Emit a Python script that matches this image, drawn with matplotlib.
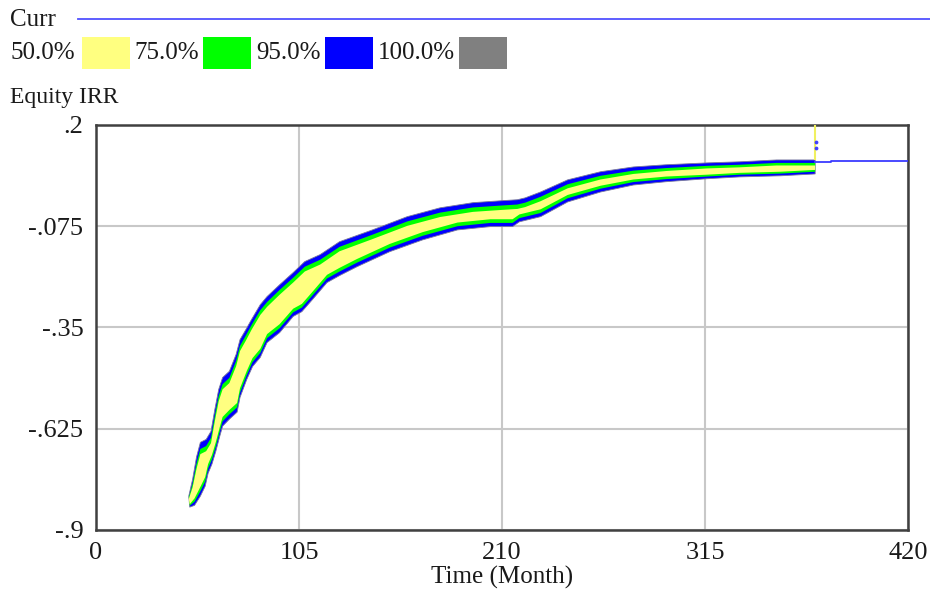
import numpy as np
import matplotlib
matplotlib.use('Agg')
from matplotlib import pyplot as plt
from matplotlib.patches import Rectangle

plt.rcParams['font.family'] = ['Liberation Serif', 'DejaVu Serif']

# sensitivity bands of Equity IRR (upper edges)
t_hi = [48, 50, 52, 54, 57, 59.5, 61.5, 63.5, 65.5, 69, 72.5, 74.5, 77.5, 80.5, 85, 88.5,
        95, 102, 108, 116, 126, 143, 161, 178, 195, 209, 218, 222, 230, 244, 261, 278,
        295, 316, 333, 352, 372]
p95_hi = [-0.808, -0.762, -0.702, -0.662, -0.654, -0.632, -0.572, -0.518, -0.486, -0.469,
          -0.423, -0.383, -0.356, -0.328, -0.288, -0.266, -0.234, -0.201, -0.171, -0.152,
          -0.117, -0.085, -0.049, -0.025, -0.011, -0.006, -0.003, 0.002, 0.018, 0.051,
          0.073, 0.086, 0.092, 0.097, 0.100, 0.105, 0.105]
p75_hi = [-0.812, -0.774, -0.720, -0.680, -0.672, -0.650, -0.590, -0.536, -0.504, -0.487,
          -0.441, -0.400, -0.372, -0.343, -0.303, -0.281, -0.248, -0.215, -0.185, -0.166,
          -0.131, -0.098, -0.062, -0.038, -0.024, -0.019, -0.016, -0.011, 0.005, 0.039,
          0.062, 0.076, 0.083, 0.089, 0.092, 0.097, 0.097]
p50_hi = [-0.816, -0.784, -0.734, -0.694, -0.686, -0.664, -0.604, -0.550, -0.518, -0.501,
          -0.455, -0.414, -0.386, -0.356, -0.316, -0.294, -0.261, -0.228, -0.198, -0.179,
          -0.143, -0.110, -0.074, -0.050, -0.036, -0.031, -0.028, -0.023, -0.007, 0.028,
          0.052, 0.067, 0.075, 0.082, 0.085, 0.090, 0.090]

# lower edges
t_lo = [48.5, 51, 54, 56.5, 58, 60, 62, 64, 65.5, 69, 73, 74.5, 78, 81, 85, 88.5, 95, 102,
        106.5, 112, 119.5, 126, 135, 152, 169, 187, 204, 215.5, 219, 230, 244, 261, 278,
        295, 316, 333, 354, 372]
p95_lo = [-0.838, -0.833, -0.808, -0.781, -0.746, -0.721, -0.686, -0.646, -0.618, -0.599,
          -0.580, -0.540, -0.491, -0.456, -0.431, -0.391, -0.364, -0.320, -0.307, -0.274,
          -0.228, -0.209, -0.185, -0.144, -0.112, -0.085, -0.076, -0.076, -0.063, -0.049,
          -0.009, 0.018, 0.037, 0.046, 0.054, 0.059, 0.062, 0.067]
p75_lo = [-0.834, -0.823, -0.795, -0.768, -0.733, -0.708, -0.673, -0.633, -0.605, -0.586,
          -0.567, -0.527, -0.479, -0.444, -0.419, -0.379, -0.352, -0.309, -0.296, -0.263,
          -0.217, -0.198, -0.174, -0.133, -0.101, -0.075, -0.066, -0.066, -0.053, -0.039,
          0.001, 0.027, 0.045, 0.053, 0.060, 0.065, 0.068, 0.073]
p50_lo = [-0.830, -0.814, -0.783, -0.756, -0.721, -0.696, -0.661, -0.621, -0.593, -0.574,
          -0.555, -0.515, -0.468, -0.433, -0.408, -0.368, -0.341, -0.299, -0.286, -0.253,
          -0.207, -0.188, -0.164, -0.123, -0.091, -0.065, -0.056, -0.056, -0.043, -0.029,
          0.010, 0.035, 0.052, 0.060, 0.065, 0.070, 0.073, 0.078]

# current run after the band ends, and the final spike
curr_t = [372, 380, 420]
curr_v = [0.100, 0.103, 0.103]
spike_t = 372
spike_top = 0.2
dots_v = [0.154, 0.138]

band_labels = ['50.0%', '75.0%', '95.0%', '100.0%']
band_colors = ['#ffff80', '#00ff00', '#0000ff', '#808080']

xticks = [0, 105, 210, 315, 420]
yticks = [0.2, -0.075, -0.35, -0.625, -0.9]
ylabels = ['.2', '-.075', '-.35', '-.625', '-.9']

fig = plt.figure(figsize=(9.3, 6), dpi=100)
ax = fig.add_axes([0.1032, 0.1167, 0.8731, 0.675])


def band(hi, lo, color, **kw):
    xs = np.concatenate([t_hi, t_lo[::-1]])
    ys = np.concatenate([hi, lo[::-1]])
    ax.fill(xs, ys, color=color, **kw)


band(p95_hi, p95_lo, band_colors[2], ec='#7a7a9a', lw=0.6, zorder=2)
band(p75_hi, p75_lo, band_colors[1], lw=0, zorder=3)
band(p50_hi, p50_lo, band_colors[0], lw=0, zorder=4)

ax.plot(curr_t, curr_v, color='#3a3aff', lw=1.3, drawstyle='steps-post', zorder=5)
ax.vlines(spike_t, p95_hi[-1], spike_top, color='#f0f060', lw=1.5, zorder=5)
ax.scatter([spike_t + 0.5] * 2, dots_v, s=3, color='#4040ff', zorder=6)

ax.set_xlim(0, 420)
ax.set_ylim(-0.9, 0.2)
ax.set_xticks(xticks)
ax.set_xticklabels([str(x) for x in xticks])
ax.set_yticks(yticks)
ax.set_yticklabels(ylabels)
ax.tick_params(length=0, labelsize=19, colors='#1a1a1a', pad=9)
ax.grid(True, color='#c8c8c8', lw=1.5, zorder=0)
ax.set_axisbelow(True)
for s in ax.spines.values():
    s.set_color('#404040')
    s.set_linewidth(1.8)
ax.set_xlabel('Time (Month)', fontsize=18, color='#1a1a1a', labelpad=1)

# legend at the top, Vensim style
fig.text(10 / 930, 1 - 20 / 600, 'Curr', fontsize=18, va='center', ha='left', color='#1a1a1a')
fig.add_artist(plt.Line2D([78 / 930, 1.0], [1 - 19 / 600] * 2, color='#5050ff', lw=1.3))
lab_x = [10, 134, 256, 378]
box_x = [82, 203, 325, 459]
for lx, bx, lab, c in zip(lab_x, box_x, band_labels, band_colors):
    fig.text(lx / 930, 1 - 53 / 600, lab, fontsize=18, va='center', ha='left', color='#1a1a1a')
    fig.add_artist(Rectangle((bx / 930, 1 - 69 / 600), 48 / 930, 32 / 600,
                             transform=fig.transFigure, fc=c, ec='none'))
fig.text(10 / 930, 1 - 98 / 600, 'Equity IRR', fontsize=17, va='center', ha='left', color='#1a1a1a')

plt.savefig('out.png', dpi=100)
